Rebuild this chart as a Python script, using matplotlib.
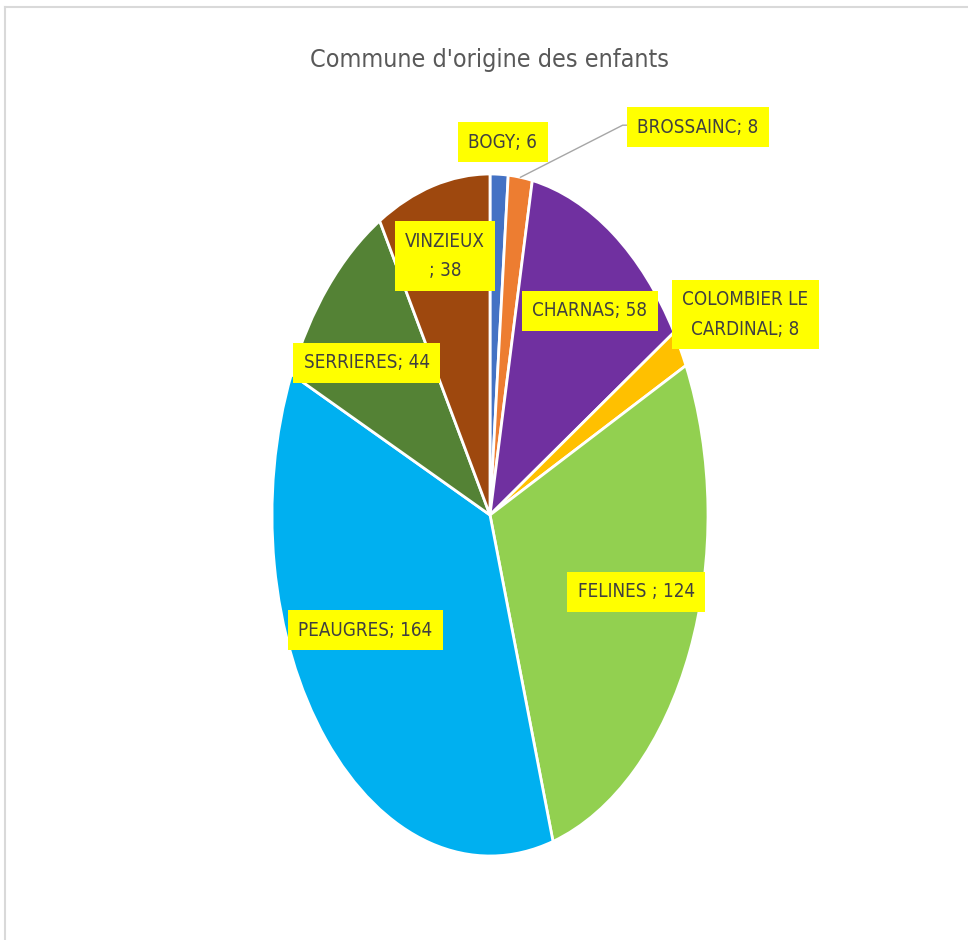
import numpy as np
import matplotlib.pyplot as plt
from matplotlib.lines import Line2D

plt.rcParams['font.family'] = ['DejaVu Sans']
plt.rcParams['font.stretch'] = 'condensed'

# data
communes = ['BOGY', 'BROSSAINC', 'CHARNAS', 'COLOMBIER LE\nCARDINAL',
            'FELINES ', 'PEAUGRES', 'SERRIERES', 'VINZIEUX\n']
effectifs = [6, 8, 58, 8, 124, 164, 44, 38]
couleurs = ['#4472C4', '#ED7D31', '#7030A0', '#FFC000',
            '#92D050', '#00B0F0', '#548235', '#9E480E']

# label layout: radial distance and angle nudge (deg, clockwise)
lab_r = [1.095, 1.485, 0.754, 1.31, 0.707, 0.665, 0.72, 0.787]
lab_da = [0.7, 32, 3, 2.5, -5, 10.7, -3.7, 0]

fig = plt.figure(figsize=(9.68, 9.40), dpi=100)
ax = fig.add_axes([0, 0, 1, 1])

wedges, _ = ax.pie(effectifs, colors=couleurs, startangle=90, counterclock=False,
                   radius=1.0, wedgeprops=dict(edgecolor='white', linewidth=2))
ax.set_aspect('auto')
ax.set_xlim(-490 / 218, 478 / 218)
ax.set_ylim(-425 / 341, 515 / 341)
ax.axis('off')

box = dict(boxstyle='square,pad=0.55', fc='#FFFF00', ec='none')
for i, w in enumerate(wedges):
    mid = (w.theta1 + w.theta2) / 2
    a = np.deg2rad(mid - lab_da[i])
    x, y = lab_r[i] * np.cos(a), lab_r[i] * np.sin(a)
    txt = communes[i] + '; ' + str(effectifs[i])
    if i == 1:
        m = np.deg2rad(mid)
        ax.annotate(txt, xy=(np.cos(m), np.sin(m)), xytext=(x, y),
                    ha='center', va='center', fontsize=13.5, color='#404040',
                    bbox=box, linespacing=1.7,
                    arrowprops=dict(arrowstyle='-', color='#A6A6A6', lw=1,
                                    shrinkA=0, shrinkB=0, relpos=(0, 0.6),
                                    connectionstyle='angle,angleA=0,angleB=27,rad=0'))
    else:
        ax.text(x, y, txt, ha='center', va='center', fontsize=13.5,
                color='#404040', bbox=box, linespacing=1.7)

fig.text(0.506, 0.936, "Commune d'origine des enfants", ha='center', va='center',
         fontsize=18, color='#595959')

# light frame
fig.add_artist(Line2D([5 / 968, 1], [1 - 7 / 940, 1 - 7 / 940], color='#D9D9D9', lw=1.5))
fig.add_artist(Line2D([5 / 968, 5 / 968], [0, 1 - 7 / 940], color='#D9D9D9', lw=1.5))

fig.savefig('out.png', dpi=100)
